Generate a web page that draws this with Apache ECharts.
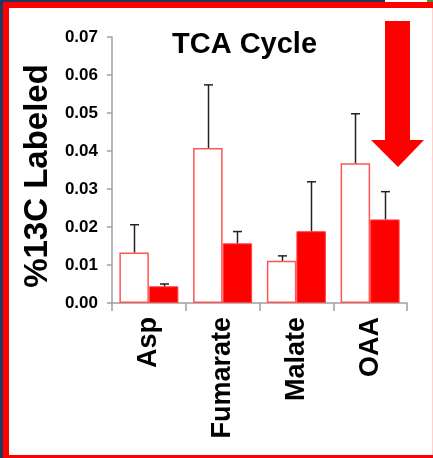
<!DOCTYPE html>
<html>
<head>
<meta charset="utf-8">
<script src="https://cdn.jsdelivr.net/npm/echarts@6/dist/echarts.min.js"></script>
<style>
html,body{margin:0;padding:0;width:433px;height:458px;overflow:hidden;background:#fff;}
#frame{position:absolute;left:0;top:0;width:433px;height:458px;}
#chart{position:absolute;left:0;top:0;width:433px;height:458px;}
.blk{position:absolute;}
</style>
</head>
<body>
<div id="frame">
  <div class="blk" style="left:0;top:0;width:385px;height:2px;background:#1f3a60;"></div>
  <div class="blk" style="left:427px;top:0;width:6px;height:2px;background:#3a9a3a;"></div>
  <div class="blk" style="left:0;top:0;width:3px;height:458px;background:#1f3a60;"></div>
  <div class="blk" style="left:3px;top:2px;width:430px;height:6px;background:#ff0000;"></div>
  <div class="blk" style="left:3px;top:2px;width:6px;height:456px;background:#ff0000;"></div>
  <div class="blk" style="left:3px;top:455px;width:430px;height:3px;background:#ff0000;"></div>
  <div class="blk" style="left:432px;top:8px;width:1px;height:447px;background:#ffd0d0;"></div>
</div>
<div id="chart"></div>
<script>
const categories = ['Asp', 'Fumarate', 'Malate', 'OAA'];
const controlValues = [0.0133, 0.0408, 0.0111, 0.0368];
const controlErrors = [0.0073, 0.0166, 0.0013, 0.0130];
const treatedValues = [0.0044, 0.0157, 0.0189, 0.0220];
const treatedErrors = [0.0006, 0.0031, 0.0130, 0.0073];
const yTicks = [0, 0.01, 0.02, 0.03, 0.04, 0.05, 0.06, 0.07];
const yAxisTitle = '%13C Labeled';
const chartTitle = 'TCA Cycle';

const FONT = '"Liberation Sans", Arial, sans-serif';
const chart = echarts.init(document.getElementById('chart'), null, {renderer: 'canvas'});

function errorSeries(values, errors, side) {
  return {
    type: 'custom',
    z: 5,
    data: values.map((v, i) => [i, v, errors[i]]),
    renderItem: function (params, api) {
      const idx = api.value(0);
      const v = api.value(1);
      const e = api.value(2);
      const bandW = api.size([1, 0])[0];
      const barW = bandW * 0.8 / 2;
      const base = api.coord([idx, v]);
      const top = api.coord([idx, v + e]);
      const x = Math.round(base[0] + side * barW / 2) + 0.5;
      const half = 4.5;
      return {
        type: 'group',
        children: [
          {type: 'line', shape: {x1: x, y1: base[1], x2: x, y2: top[1]}, style: {stroke: '#222', lineWidth: 1.5}},
          {type: 'line', shape: {x1: x - half, y1: top[1], x2: x + half, y2: top[1]}, style: {stroke: '#222', lineWidth: 1.5}}
        ]
      };
    }
  };
}

chart.setOption({
  animation: false,
  backgroundColor: 'transparent',
  title: {
    text: chartTitle,
    left: 167,
    top: 25,
    textStyle: {fontFamily: FONT, fontWeight: 'bold', fontSize: 29, color: '#000'}
  },
  grid: {left: 112, right: 26, top: 37, bottom: 155, containLabel: false},
  xAxis: {
    type: 'category',
    data: categories,
    axisLine: {lineStyle: {color: '#a0a0a0', width: 1.5}},
    axisTick: {show: true, alignWithLabel: false, length: 8, lineStyle: {color: '#a0a0a0', width: 1.5}},
    axisLabel: {rotate: 90, margin: 14, fontFamily: FONT, fontWeight: 'bold', fontSize: 27, color: '#000'}
  },
  yAxis: {
    type: 'value',
    min: 0,
    max: 0.07,
    interval: 0.01,
    splitLine: {show: false},
    axisLine: {show: true, lineStyle: {color: '#a0a0a0', width: 1.5}},
    axisTick: {show: true, length: 5, lineStyle: {color: '#a0a0a0', width: 1.5}},
    axisLabel: {
      margin: 14,
      fontFamily: FONT, fontWeight: 'bold', fontSize: 17, color: '#000',
      formatter: function (v) {
        const t = yTicks.find(k => Math.abs(k - v) < 1e-9);
        return (t !== undefined ? t : v).toFixed(2);
      }
    }
  },
  series: [
    {
      type: 'bar',
      data: controlValues,
      barGap: '0%',
      barCategoryGap: '20%',
      itemStyle: {color: '#ffffff', borderColor: '#ff5555', borderWidth: 1.5}
    },
    {
      type: 'bar',
      data: treatedValues,
      barGap: '0%',
      barCategoryGap: '20%',
      itemStyle: {color: '#ff0000', borderColor: '#ff4444', borderWidth: 1}
    },
    errorSeries(controlValues, controlErrors, -1),
    errorSeries(treatedValues, treatedErrors, 1)
  ],
  graphic: [
    {
      type: 'text',
      x: 38,
      y: 176,
      rotation: Math.PI / 2,
      style: {
        text: yAxisTitle,
        font: 'bold 33px ' + FONT,
        fill: '#000',
        textAlign: 'center',
        textVerticalAlign: 'middle'
      }
    },
    {
      type: 'polygon',
      z: 10,
      shape: {points: [[385, 21], [410, 21], [410, 140], [424, 140], [398, 167], [371, 140], [385, 140]]},
      style: {fill: '#ff0000'}
    }
  ]
});
</script>
</body>
</html>
